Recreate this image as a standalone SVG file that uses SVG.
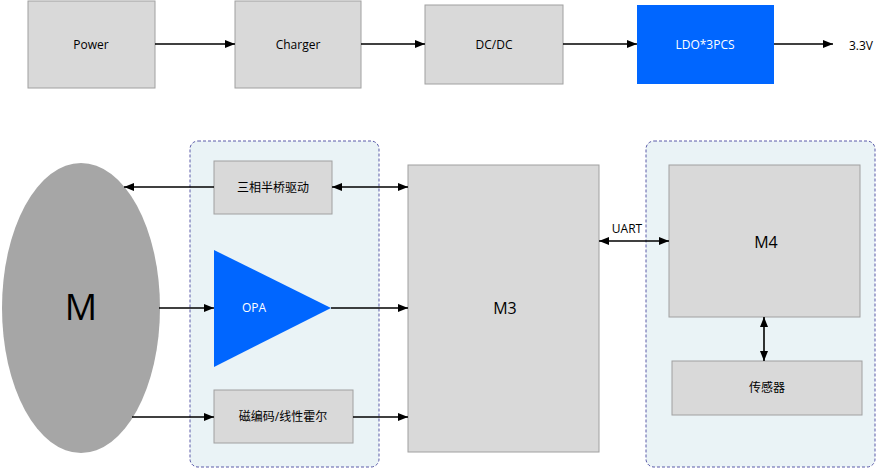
<svg xmlns="http://www.w3.org/2000/svg" width="882" height="468" viewBox="0 0 882 468">
<style>
.box{fill:#D9D9D9;stroke:#A0A0A0;stroke-width:1}
.blue{fill:#0066FF}
.cont{fill:#EAF3F6;stroke:#5A5AA8;stroke-width:1;stroke-dasharray:3 2}
.t{font-family:"Open Sans","Noto Sans CJK SC",sans-serif;font-size:12px;fill:#000;text-anchor:middle;dominant-baseline:central}
.w{fill:#fff}
.big{font-size:16px}
.line{stroke:#000;stroke-width:1.6;fill:none}
</style>
<defs>
<marker id="ah" viewBox="0 0 10 8" refX="10" refY="4" markerWidth="10" markerHeight="8" markerUnits="userSpaceOnUse" orient="auto-start-reverse">
<path d="M0,0 L10,4 L0,8 z" fill="#000"/>
</marker>
</defs>
<rect width="882" height="468" fill="#fff"/>
<g id="container-left"><rect class="cont" x="190" y="141" width="189" height="326" rx="8"/></g>
<g id="container-right"><rect class="cont" x="646" y="141" width="229" height="326" rx="8"/></g>
<g id="power"><rect class="box" x="28" y="1" width="127" height="87"/><text class="t" x="91" y="44">Power</text></g>
<g id="charger"><rect class="box" x="235" y="1" width="126" height="87"/><text class="t" x="298" y="44">Charger</text></g>
<g id="dcdc"><rect class="box" x="425" y="5" width="138" height="79"/><text class="t" x="494" y="44">DC/DC</text></g>
<g id="ldo"><rect class="blue" x="637" y="5" width="137" height="79"/><text class="t w" x="705" y="44">LDO*3PCS</text></g>
<g id="out33"><text class="t" x="861" y="45">3.3V</text></g>
<g id="motor"><ellipse cx="81" cy="308" rx="79" ry="145" fill="#A6A6A6"/><text class="t" x="81" y="306" style="font-size:36px">M</text></g>
<g id="driver"><rect class="box" x="214" y="161" width="118" height="53"/><text class="t" x="273" y="187">三相半桥驱动</text></g>
<g id="opa"><polygon class="blue" points="214,250 331,308 214,367"/><text class="t w" x="254" y="307">OPA</text></g>
<g id="encoder"><rect class="box" x="214" y="390" width="139" height="53"/><text class="t" x="283" y="416">磁编码/线性霍尔</text></g>
<g id="m3"><rect class="box" x="408" y="165" width="191" height="287"/><text class="t big" x="505" y="308">M3</text></g>
<g id="m4"><rect class="box" x="669" y="165" width="191" height="152"/><text class="t big" x="766" y="242">M4</text></g>
<g id="sensor"><rect class="box" x="672" y="361" width="190" height="54"/><text class="t" x="767" y="387">传感器</text></g>
<g id="connectors">
<line class="line" x1="155" y1="44" x2="235" y2="44" marker-end="url(#ah)"/>
<line class="line" x1="361" y1="44" x2="425" y2="44" marker-end="url(#ah)"/>
<line class="line" x1="563" y1="44" x2="637" y2="44" marker-end="url(#ah)"/>
<line class="line" x1="774" y1="44" x2="833" y2="44" marker-end="url(#ah)"/>
<line class="line" x1="214" y1="187" x2="124" y2="187" marker-end="url(#ah)"/>
<line class="line" x1="332" y1="187" x2="408" y2="187" marker-start="url(#ah)" marker-end="url(#ah)"/>
<line class="line" x1="159" y1="308" x2="214" y2="308" marker-end="url(#ah)"/>
<line class="line" x1="331" y1="308" x2="408" y2="308" marker-end="url(#ah)"/>
<line class="line" x1="132" y1="417" x2="214" y2="417" marker-end="url(#ah)"/>
<line class="line" x1="353" y1="417" x2="408" y2="417" marker-end="url(#ah)"/>
<line class="line" x1="599" y1="241" x2="669" y2="241" marker-start="url(#ah)" marker-end="url(#ah)"/>
<line class="line" x1="764" y1="317" x2="764" y2="361" marker-start="url(#ah)" marker-end="url(#ah)"/>
<text class="t" x="627" y="228">UART</text>
</g>
</svg>
